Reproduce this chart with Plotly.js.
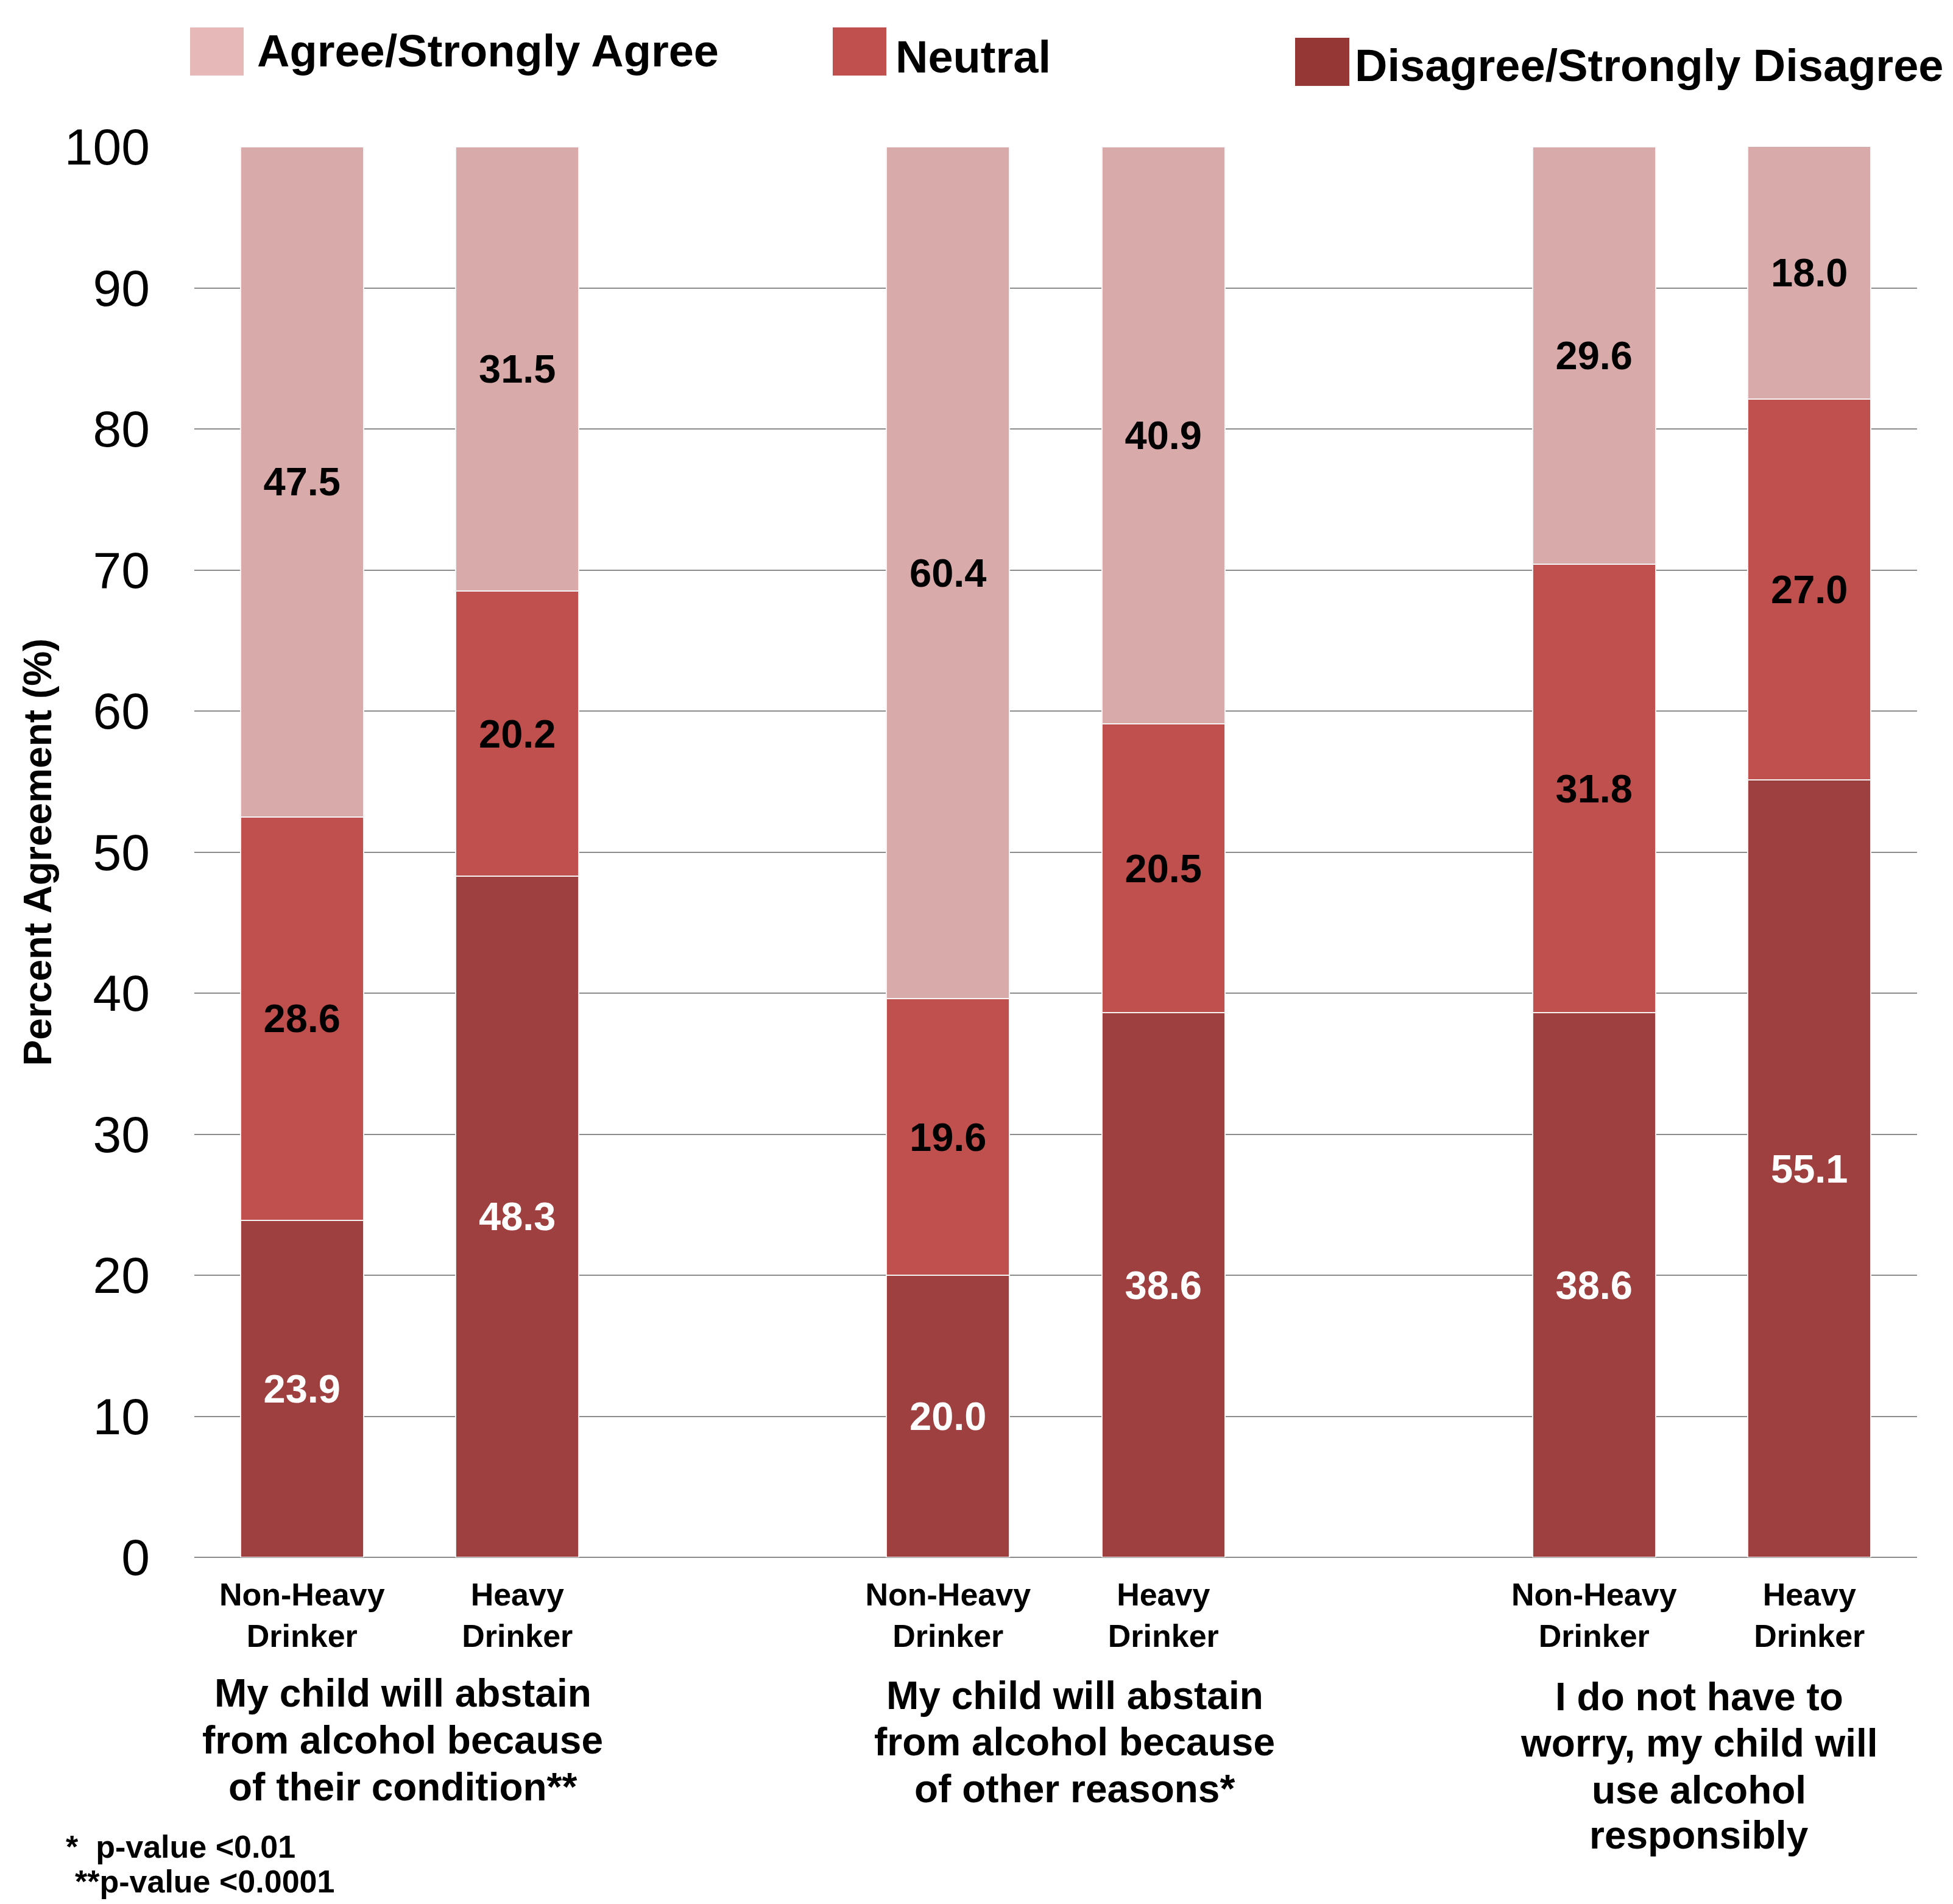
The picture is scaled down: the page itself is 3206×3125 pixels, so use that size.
<!DOCTYPE html>
<html>
<head>
<meta charset="utf-8">
<script src="https://cdn.plot.ly/plotly-3.0.1.min.js"></script>
<style>
  html, body { margin: 0; padding: 0; background: #ffffff; }
  #chart { width: 3206px; height: 3125px; }
</style>
</head>
<body>
<div id="chart"></div>
<script>
// ---------------- data ----------------
const drinkerLabels = ["Non-Heavy<br>Drinker", "Heavy<br>Drinker"];
const statementLines = [
  ["My child will abstain", "from alcohol because", "of their condition**"],
  ["My child will abstain", "from alcohol because", "of other reasons*"],
  ["I do not have to", "worry, my child will", "use alcohol", "responsibly"]
];
const seriesNames = ["Agree/Strongly Agree", "Neutral", "Disagree/Strongly Disagree"];
const agree    = [47.5, 31.5, 60.4, 40.9, 29.6, 18.0];
const neutral  = [28.6, 20.2, 19.6, 20.5, 31.8, 27.0];
const disagree = [23.9, 48.3, 20.0, 38.6, 38.6, 55.1];
const yTicks   = [0, 10, 20, 30, 40, 50, 60, 70, 80, 90, 100];
const footnotes = ["*\u00a0\u00a0p-value <0.01", "**p-value <0.0001"];

// ---------------- styling ----------------
const FONT = "Liberation Sans, Arial, Helvetica, sans-serif";
const barColors    = ["#D9AAAA", "#C0504D", "#9E4040"];
const legendColors = ["#E6B9B8", "#C0504D", "#953735"];

// plot area in page pixels
const L = 319, R = 3147, T = 241, B = 2556;
const W = 3206, H = 3125;
const px = x => (x - L) / (R - L);
const py = y => (B - y) / (B - T);

// x positions: each statement group holds 2 bars, with a one-slot gap between groups
const xPos = [];
const xText = [];
statementLines.forEach((g, gi) => {
  drinkerLabels.forEach((d, di) => {
    xPos.push(gi * 3 + di);
    xText.push(d);
  });
});

function barTrace(vals, name, color, textColor) {
  return {
    type: "bar",
    x: xPos,
    y: vals,
    name: name,
    width: 0.572,
    marker: { color: color, line: { color: "rgba(245,245,245,0.95)", width: 2 } },
    texttemplate: "%{y:.1f}",
    textposition: "inside",
    insidetextanchor: "middle",
    textangle: 0,
    constraintext: "none",
    insidetextfont: { family: FONT, size: 65, weight: "bold", color: textColor },
    hoverinfo: "x+y+name",
    showlegend: false
  };
}

const traces = [
  barTrace(disagree, seriesNames[2], barColors[2], "#ffffff"),
  barTrace(neutral,  seriesNames[1], barColors[1], "#000000"),
  barTrace(agree,    seriesNames[0], barColors[0], "#000000")
];

// ---------------- legend (drawn as shapes + text) ----------------
const legendItems = [
  { sw: [312, 45, 400, 124], tx: 420, ty: 84 },
  { sw: [1367, 45, 1455, 124], tx: 1468, ty: 93 },
  { sw: [2126, 62, 2215, 141], tx: 2222, ty: 107 }
];
const shapes = [];
const annotations = [];
legendItems.forEach((it, i) => {
  shapes.push({
    type: "rect", xref: "paper", yref: "paper",
    x0: px(it.sw[0]), x1: px(it.sw[2]), y0: py(it.sw[3]), y1: py(it.sw[1]),
    fillcolor: legendColors[i], line: { width: 0 }
  });
  annotations.push({
    xref: "paper", yref: "paper", x: px(it.tx), y: py(it.ty),
    xanchor: "left", yanchor: "middle", showarrow: false,
    text: seriesNames[i],
    font: { family: FONT, size: 74, weight: "bold", color: "#000000" }
  });
});

// ---------------- statement labels under groups ----------------
const groupCenters = [661, 1764, 2789];
const groupLineY = [
  [2779, 2856, 2933],
  [2783, 2859, 2936],
  [2785, 2861, 2938, 3012]
];
statementLines.forEach((lines, gi) => {
  lines.forEach((ln, li) => {
    annotations.push({
      xref: "paper", yref: "paper",
      x: px(groupCenters[gi]), y: py(groupLineY[gi][li]),
      xanchor: "center", yanchor: "middle", showarrow: false,
      text: ln,
      font: { family: FONT, size: 64, weight: "bold", color: "#000000" }
    });
  });
});

// ---------------- footnotes ----------------
const footX = [106, 121];
const footY = [3031, 3088];
footnotes.forEach((f, i) => {
  annotations.push({
    xref: "paper", yref: "paper", x: px(footX[i]), y: py(footY[i]),
    xanchor: "left", yanchor: "middle", showarrow: false,
    text: f,
    font: { family: FONT, size: 52, weight: "bold", color: "#000000" }
  });
});

const layout = {
  width: W, height: H,
  margin: { l: L, r: W - R, t: T, b: H - B, pad: 0 },
  paper_bgcolor: "#ffffff",
  plot_bgcolor: "#ffffff",
  barmode: "stack",
  bargap: 0,
  showlegend: false,
  font: { family: FONT, color: "#000000" },
  xaxis: {
    range: [-0.5, 7.5],
    tickmode: "array",
    tickvals: xPos,
    ticktext: xText,
    tickfont: { family: FONT, size: 52, weight: "bold", color: "#000000" },
    showgrid: false, zeroline: false, showline: false,
    ticks: "", ticklabelstandoff: 26,
    automargin: false, fixedrange: true
  },
  yaxis: {
    range: [0, 100],
    tickmode: "array",
    tickvals: yTicks,
    ticktext: yTicks.map(String),
    tickfont: { family: FONT, size: 84, color: "#000000" },
    showgrid: true, gridcolor: "#8c8c8c", gridwidth: 2,
    zeroline: true, zerolinecolor: "#8c8c8c", zerolinewidth: 2,
    showline: false, ticks: "", ticklabelstandoff: 72,
    title: {
      text: "Percent Agreement (%)",
      font: { family: FONT, size: 64, weight: "bold", color: "#000000" },
      standoff: 0
    },
    automargin: false, fixedrange: true
  },
  shapes: shapes,
  annotations: annotations
};

Plotly.newPlot("chart", traces, layout, { displayModeBar: false, staticPlot: true });
</script>
</body>
</html>
